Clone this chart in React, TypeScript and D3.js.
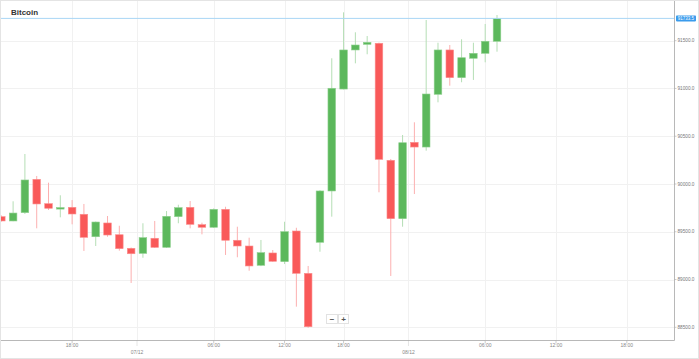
import React from 'react';
import * as d3 from 'd3';

// hourly candles
const opens = [89658, 89613, 89700, 90049, 89794, 89750, 89756, 89683, 89448, 89592, 89469, 89327, 89274, 89432, 89337, 89658, 89756, 89574, 89547, 89735, 89411, 89351, 89149, 89278, 89187, 89508, 89065, 89390, 89927, 90994, 91403, 91462, 91473, 90248, 89637, 90436, 90387, 90939, 91403, 91113, 91316, 91368, 91494];
const highs = [89672, 89819, 90314, 90084, 90014, 89882, 89832, 89791, 89607, 89665, 89563, 89335, 89589, 89613, 89717, 89783, 89822, 89595, 89745, 89762, 89553, 89438, 89414, 89309, 89605, 89542, 89142, 89935, 91316, 91797, 91588, 91549, 91480, 90262, 90513, 90646, 91717, 91479, 91455, 91515, 91479, 91675, 91769];
const lows = [89606, 89610, 89686, 89536, 89728, 89651, 89578, 89299, 89351, 89448, 89302, 88964, 89228, 89330, 89330, 89589, 89536, 89473, 89540, 89257, 89233, 89092, 89140, 89185, 89162, 88716, 88495, 89291, 89658, 90990, 91263, 91358, 89913, 89037, 89553, 89895, 90349, 90855, 91029, 91065, 91089, 91274, 91385];
const closes = [89613, 89696, 90042, 89791, 89746, 89753, 89686, 89442, 89602, 89466, 89323, 89270, 89438, 89337, 89662, 89752, 89578, 89547, 89735, 89411, 89351, 89142, 89281, 89191, 89501, 89065, 88506, 89927, 91002, 91403, 91455, 91483, 90258, 89637, 90432, 90387, 90942, 91403, 91113, 91322, 91368, 91494, 91733.5];

// x ticks given as candle slots
const timeTickSlots = [6, 18, 24, 29, 41, 47, 53];
const timeTickLabels = ['18:00', '06:00', '12:00', '18:00', '06:00', '12:00', '18:00'];
const dateTickSlots = [11.5, 34.5];
const dateTickLabels = ['07/12', '08/12'];
const priceTicks = [88500, 89000, 89500, 90000, 90500, 91000, 91500];

const title = 'Bitcoin';

const W = 699;
const H = 359;
const plotRight = 674.5;
const plotBottom = 340.5;

const UP = '#5cb85c';
const DOWN = '#f95959';

export default function App() {
  const x = d3.scaleLinear().domain([0, opens.length - 1]).range([1.3, 497]);
  const y = d3.scaleLinear().domain([88500, 91500]).range([327.3, 40.7]);
  const fmt = d3.format('.1f');
  const bodyW = 7.6;
  const last = closes[closes.length - 1];
  const yLast = y(last);

  const candles = opens.map((o, i) => ({ o, h: highs[i], l: lows[i], c: closes[i], i }));

  return (
    <svg width={W} height={H} style={{ position: 'absolute', left: 0, top: 0, fontFamily: 'Arial, "Liberation Sans", sans-serif' }}>
      <rect x={0} y={0} width={W} height={H} fill="#fff" />

      {/* grid */}
      {priceTicks.map(t => (
        <line key={'gy' + t} x1={0} x2={plotRight} y1={Math.round(y(t)) + 0.5} y2={Math.round(y(t)) + 0.5} stroke="#f1f1f1" />
      ))}
      {timeTickSlots.concat(dateTickSlots).map((s, k) => (
        <line key={'gx' + k} x1={Math.round(x(s)) + 0.5} x2={Math.round(x(s)) + 0.5} y1={0} y2={plotBottom} stroke="#f1f1f1" />
      ))}

      <clipPath id="plot">
        <rect x={1} y={0} width={plotRight - 1} height={plotBottom} />
      </clipPath>

      {/* candles */}
      <g clipPath="url(#plot)">
        {candles.map(d => {
          const up = d.c >= d.o;
          const cx = x(d.i);
          const top = y(Math.max(d.o, d.c));
          const bot = y(Math.min(d.o, d.c));
          return (
            <g key={d.i}>
              <line x1={cx} x2={cx} y1={y(d.h)} y2={y(d.l)} stroke={up ? '#b5deb5' : '#fcb0b0'} strokeWidth={1} />
              <rect x={cx - bodyW / 2} y={top} width={bodyW} height={Math.max(1.5, bot - top)}
                fill={up ? UP : DOWN} stroke={up ? '#8fd08f' : '#fb8f8f'} strokeWidth={0.6} />
            </g>
          );
        })}
      </g>

      {/* current price line */}
      <line x1={0} x2={plotRight} y1={yLast} y2={yLast} stroke="#a9d6f5" strokeWidth={1} />

      {/* axes */}
      <line x1={plotRight} x2={plotRight} y1={0} y2={plotBottom} stroke="#b8b8b8" />
      <line x1={0} x2={plotRight} y1={plotBottom} y2={plotBottom} stroke="#b8b8b8" />

      {priceTicks.map(t => (
        <g key={'ty' + t}>
          <line x1={plotRight} x2={plotRight + 2} y1={y(t)} y2={y(t)} stroke="#aaa" strokeWidth={0.6} />
          <text x={plotRight + 3} y={y(t)} dy="0.35em" fontSize={4.7} fill="#777">{fmt(t)}</text>
        </g>
      ))}

      {timeTickSlots.map((s, k) => (
        <g key={'tx' + k}>
          <line x1={x(s)} x2={x(s)} y1={plotBottom} y2={plotBottom + 3} stroke="#aaa" strokeWidth={0.6} />
          <text x={x(s)} y={plotBottom + 6.5} textAnchor="middle" fontSize={5} fill="#888">{timeTickLabels[k]}</text>
        </g>
      ))}
      {dateTickSlots.map((s, k) => (
        <g key={'td' + k}>
          <line x1={x(s)} x2={x(s)} y1={plotBottom} y2={plotBottom + 6} stroke="#aaa" strokeWidth={0.6} strokeDasharray="1,1" />
          <text x={x(s)} y={plotBottom + 13} textAnchor="middle" fontSize={5} fill="#888">{dateTickLabels[k]}</text>
        </g>
      ))}

      {/* last price badge */}
      <rect x={plotRight + 1.5} y={yLast - 3} width={20} height={6} rx={0.8} fill="#3a9bec" />
      <text x={plotRight + 11.5} y={yLast} dy="0.35em" textAnchor="middle" fontSize={4.5} fill="#fff">{fmt(last)}</text>

      {/* title */}
      <text x={11} y={14.5} fontSize={8} fontWeight="bold" fill="#333">{title}</text>

      {/* zoom buttons */}
      <g>
        <rect x={326.5} y={314.5} width={11} height={9} fill="#fff" stroke="#e2e2e2" />
        <rect x={338.5} y={314.5} width={10} height={9} fill="#fff" stroke="#e2e2e2" />
        <text x={332} y={319} dy="0.35em" textAnchor="middle" fontSize={8} fontWeight="bold" fill="#555">−</text>
        <text x={343.5} y={319} dy="0.35em" textAnchor="middle" fontSize={8} fontWeight="bold" fill="#555">+</text>
      </g>

      {/* frame */}
      <rect x={0.5} y={0.5} width={W - 1} height={H - 1} fill="none" stroke="#e4e4e4" />
    </svg>
  );
}
